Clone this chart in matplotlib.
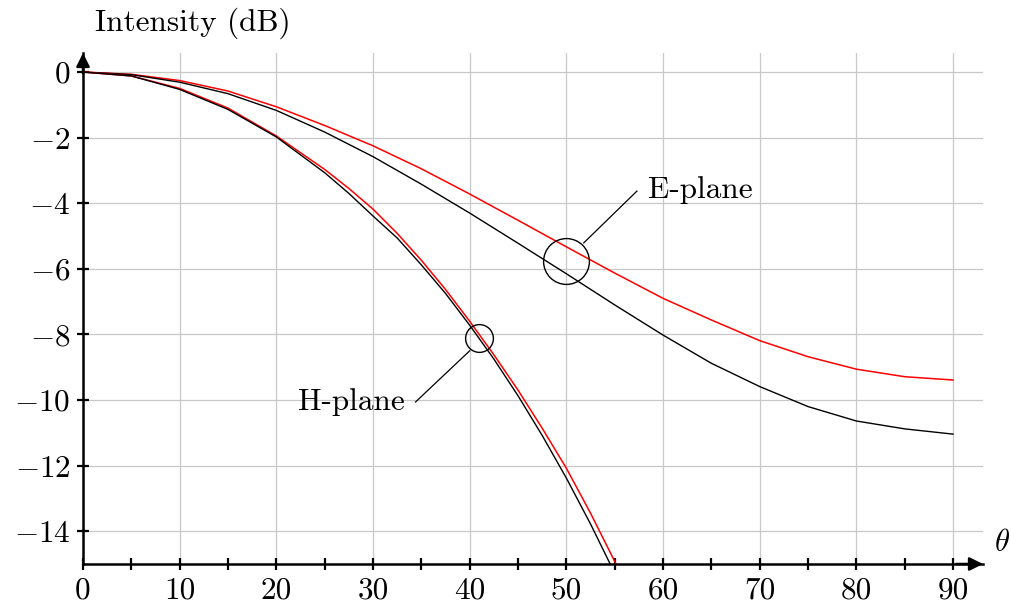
import matplotlib
matplotlib.use("Agg")
import matplotlib.pyplot as plt

# angle samples (deg) and intensity (dB)
theta = [0, 5, 10, 15, 20, 25, 30, 35, 40, 45, 50, 55, 60, 65, 70, 75, 80, 85, 90]
e_red = [0, -0.07, -0.26, -0.58, -1.06, -1.63, -2.25, -2.95, -3.72, -4.52, -5.33,
         -6.13, -6.9, -7.56, -8.19, -8.68, -9.06, -9.29, -9.39]
e_black = [0, -0.08, -0.31, -0.66, -1.17, -1.83, -2.58, -3.42, -4.3, -5.22, -6.15,
           -7.1, -8.02, -8.88, -9.59, -10.2, -10.64, -10.88, -11.04]

theta_h = [0, 5, 10, 15, 20, 25, 27.5, 30, 32.5, 35, 37.5, 40, 42.5, 45, 47.5, 50,
           52.5, 55, 57.5]
h_red = [0, -0.12, -0.5, -1.1, -1.95, -2.97, -3.55, -4.18, -4.92, -5.74, -6.63,
         -7.6, -8.62, -9.7, -10.86, -12.08, -13.45, -14.92, -16.5]
h_black = [0, -0.12, -0.53, -1.14, -1.98, -3.07, -3.7, -4.39, -5.06, -5.88, -6.75,
           -7.72, -8.75, -9.87, -11.08, -12.38, -13.78, -15.28, -16.9]

xticks = [0, 10, 20, 30, 40, 50, 60, 70, 80, 90]
yticks = [0, -2, -4, -6, -8, -10, -12, -14]

plt.rcParams['font.family'] = ['cmr10', 'DejaVu Sans']
plt.rcParams['mathtext.fontset'] = 'cm'
plt.rcParams['axes.unicode_minus'] = False

fig = plt.figure(figsize=(10.11, 6.04), dpi=100)
ax = fig.add_axes([83/1011, 1 - 564/604, 900/1011, 511/604])
ax.set_xlim(0, 93.1)
ax.set_ylim(-15, 0.58)

ax.grid(True, color="#c8c8c8", linewidth=0.9)
ax.set_axisbelow(True)

ax.plot(theta, e_red, color="red", lw=1.1)
ax.plot(theta, e_black, color="black", lw=1.0)
ax.plot(theta_h, h_red, color="red", lw=1.1)
ax.plot(theta_h, h_black, color="black", lw=1.0)

for s in ["top", "right"]:
    ax.spines[s].set_visible(False)
for s in ["left", "bottom"]:
    ax.spines[s].set_linewidth(1.8)

# arrow heads at axis ends
arr = dict(arrowstyle="-|>", color="black", lw=1.8, mutation_scale=20,
           shrinkA=0, shrinkB=0)
ax.annotate("", xy=(1, 0), xytext=(0.97, 0), xycoords="axes fraction",
            arrowprops=arr, annotation_clip=False)
ax.annotate("", xy=(0, 1), xytext=(0, 0.96), xycoords="axes fraction",
            arrowprops=arr, annotation_clip=False)

ax.set_xticks(xticks)
ax.set_xticklabels([str(v) for v in xticks])
ax.set_xticks([5, 15, 25, 35, 45, 55, 65, 75, 85], minor=True)
ax.set_yticks(yticks)
ax.set_yticklabels(["$%d$" % v for v in yticks])
ax.tick_params(which="both", direction="inout", length=8, width=1.6,
               labelsize=22.5, pad=5)

# circled annotations
ax.plot([50], [-5.75], "o", mfc="none", mec="black", ms=33, mew=1.0)
ax.plot([51.8, 57.3], [-5.21, -3.63], color="black", lw=0.9)
ax.text(58.4, -3.6, "E-plane", fontsize=22.5, va="center", ha="left")

ax.plot([41], [-8.1], "o", mfc="none", mec="black", ms=20, mew=1.0)
ax.plot([40.0, 34.4], [-8.5, -10.06], color="black", lw=0.9)
ax.text(33.3, -10.06, "H-plane", fontsize=22.5, va="center", ha="right")

ax.text(95.05, -14.36, r"$\theta$", fontsize=22, va="center", ha="center",
        clip_on=False)
fig.text(95/1011, 1 - 23/604, "Intensity (dB)", fontsize=22.5, va="center",
         ha="left")

fig.savefig("out.png", dpi=100)
